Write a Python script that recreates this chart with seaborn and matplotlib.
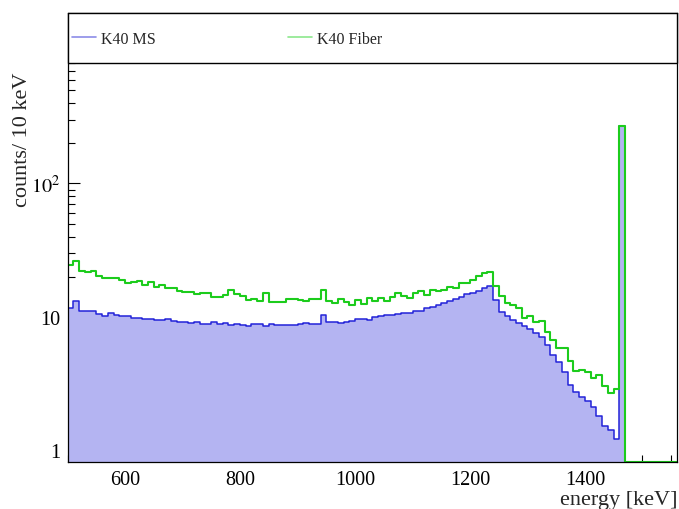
# K40 spectrum: MS vs Fiber, 10 keV bins, log y

import numpy as np
import pandas as pd
import matplotlib
matplotlib.use("Agg")
import matplotlib.pyplot as plt
import matplotlib.ticker as mticker
from matplotlib.lines import Line2D
from matplotlib.patches import Rectangle
import seaborn as sns

# Bin edges (keV)
bin_edges = np.arange(500, 1570, 10)

# Counts per 10 keV bin, 500-1560 keV
ms_counts = [
    11.6, 13.1, 11.1, 11.1, 11.0, 10.5, 10.2, 10.7, 10.35, 10.2,
    10.2, 9.85, 9.8, 9.7, 9.65, 9.5, 9.5, 9.65, 9.4, 9.12,
    9.12, 8.97, 9.12, 8.81, 8.81, 9.12, 8.9, 8.97, 8.71, 8.81,
    8.66, 8.51, 8.81, 8.81, 8.6, 8.81, 8.71, 8.71, 8.71, 8.71,
    8.81, 8.97, 8.81, 8.81, 10.35, 9.12, 9.12, 9.02, 9.22, 9.33,
    9.71, 9.71, 9.55, 10.05, 10.2, 10.35, 10.35, 10.53, 10.66, 10.66,
    11.15, 11.15, 11.6, 11.95, 12.36, 12.73, 13.18, 13.57, 14.1, 14.8,
    15.2, 15.74, 16.6, 17.0, 13.48, 10.96, 10.2, 9.55, 9.02, 8.6,
    8.13, 7.59, 7.05, 6.17, 5.2, 4.58, 3.85, 3.09, 2.73, 2.5,
    2.36, 2.11, 1.82, 1.52, 1.43, 1.22, 270,
    0, 0, 0, 0, 0, 0, 0, 0, 0,
]
fiber_counts = [
    24.5, 26.4, 22.2, 21.8, 22.1, 20.4, 19.5, 19.5, 19.5, 19.0,
    18.1, 18.3, 18.5, 17.5, 18.4, 16.8, 17.5, 16.4, 16.6, 15.7,
    15.5, 15.5, 14.95, 15.2, 15.2, 14.2, 14.2, 14.6, 15.9, 14.8,
    14.4, 13.5, 13.6, 13.25, 15.1, 12.95, 12.95, 13.0, 13.6, 13.6,
    13.5, 13.25, 13.6, 13.6, 15.9, 13.25, 12.8, 13.6, 12.95, 12.3,
    13.4, 12.6, 13.95, 13.25, 13.8, 13.25, 14.05, 15.05, 14.3, 13.9,
    15.05, 15.6, 14.7, 16.0, 15.7, 15.85, 16.8, 16.6, 18.0, 18.0,
    19.0, 20.3, 21.2, 21.8, 17.15, 14.4, 12.67, 12.36, 11.6, 9.83,
    10.2, 9.12, 9.38, 7.76, 6.76, 5.86, 5.86, 4.71, 3.92, 4.03,
    3.89, 3.51, 3.68, 3.06, 2.68, 2.89, 271,
    0, 0, 0, 0, 0, 0, 0, 0, 0,
]

series_labels = ["K40 MS", "K40 Fiber"]
ytick_vals = [1, 10, 100]
ytick_labels = ["1", "10", "$10^{2}$"]
xtick_vals = [600, 800, 1000, 1200, 1400]

sns.set_theme(style="white")
plt.rcParams['font.family'] = ['Liberation Serif', 'DejaVu Serif']
plt.rcParams['mathtext.fontset'] = 'stix'

YMIN, YMAX = 0.82, 1890
E_LO, E_HI, E_BIN = bin_edges[0], bin_edges[-1], 10

df = pd.DataFrame({
    'energy': bin_edges[:-1] + 5,
    'ms': ms_counts,
    'fiber': fiber_counts,
})
# empty bins drawn on the bottom edge, like ROOT does
df['ms_draw'] = df['ms'].clip(lower=YMIN)
df['fiber_draw'] = df['fiber'].clip(lower=YMIN)

fig = plt.figure(figsize=(6.79, 5.10), dpi=100)
ax = fig.add_axes([67.5 / 679, 47 / 510, 609.5 / 679, 449 / 510])

blue = '#2323d8'
fill_blue = '#b4b4f2'
green = '#1ccc1c'

hist_kw = dict(binwidth=E_BIN, binrange=(E_LO, E_HI), element='step', ax=ax)
sns.histplot(data=df, x='energy', weights='ms', fill=True, color=fill_blue,
             alpha=1, linewidth=0, **hist_kw)
sns.histplot(data=df, x='energy', weights='ms_draw', fill=False, color=blue,
             linewidth=1.1, **hist_kw)
sns.histplot(data=df, x='energy', weights='fiber_draw', fill=False, color=green,
             linewidth=1.5, **hist_kw)

ax.set_yscale('log')
ax.set_xlim(E_LO, E_HI)
ax.set_ylim(YMIN, YMAX)

ax.xaxis.set_major_locator(mticker.FixedLocator(xtick_vals))
ax.xaxis.set_minor_locator(mticker.MultipleLocator(50))
ax.yaxis.set_major_locator(mticker.FixedLocator(ytick_vals))
ax.yaxis.set_major_formatter(mticker.FixedFormatter(ytick_labels))
ax.yaxis.set_minor_locator(mticker.LogLocator(base=10, subs=np.arange(2, 10)))
ax.yaxis.set_minor_formatter(mticker.NullFormatter())

ax.tick_params(axis='x', which='major', direction='in', length=10, width=0.8,
               labelsize=14.5, pad=6, bottom=True, top=False, colors='black')
ax.tick_params(axis='x', which='minor', direction='in', length=5, width=0.8,
               bottom=True, top=False, colors='black')
ax.tick_params(axis='y', which='major', direction='in', length=8.6, width=0.8,
               labelsize=14.5, pad=5, left=True, right=False, colors='black')
ax.tick_params(axis='y', which='minor', direction='in', length=5, width=0.8,
               left=True, right=False, colors='black')
for s in ax.spines.values():
    s.set_color('black')
    s.set_linewidth(0.9)

ax.set_xlabel('energy [keV]', loc='right', fontsize=16, labelpad=0.5)
ax.set_ylabel('counts/ 10 keV', fontsize=16)
ax.yaxis.set_label_coords(-0.059, 0.719)

# legend box across the top of the frame
box = Rectangle((0, 0.8886), 1, 0.1114, transform=ax.transAxes, facecolor='white',
                edgecolor='black', linewidth=1, zorder=10, clip_on=False)
ax.add_patch(box)
handles = [Line2D([], [], color='#8c8ce8', lw=1.2), Line2D([], [], color='#8ce88c', lw=1.2)]
leg = ax.legend(handles, series_labels, loc='center left', bbox_to_anchor=(0.008, 0.942),
                ncol=2, frameon=False, fontsize=11.5, handlelength=1.5, handletextpad=0.3,
                columnspacing=8.3, borderpad=0, borderaxespad=0)
leg.set_zorder(11)

plt.savefig("out.png", dpi=100)
